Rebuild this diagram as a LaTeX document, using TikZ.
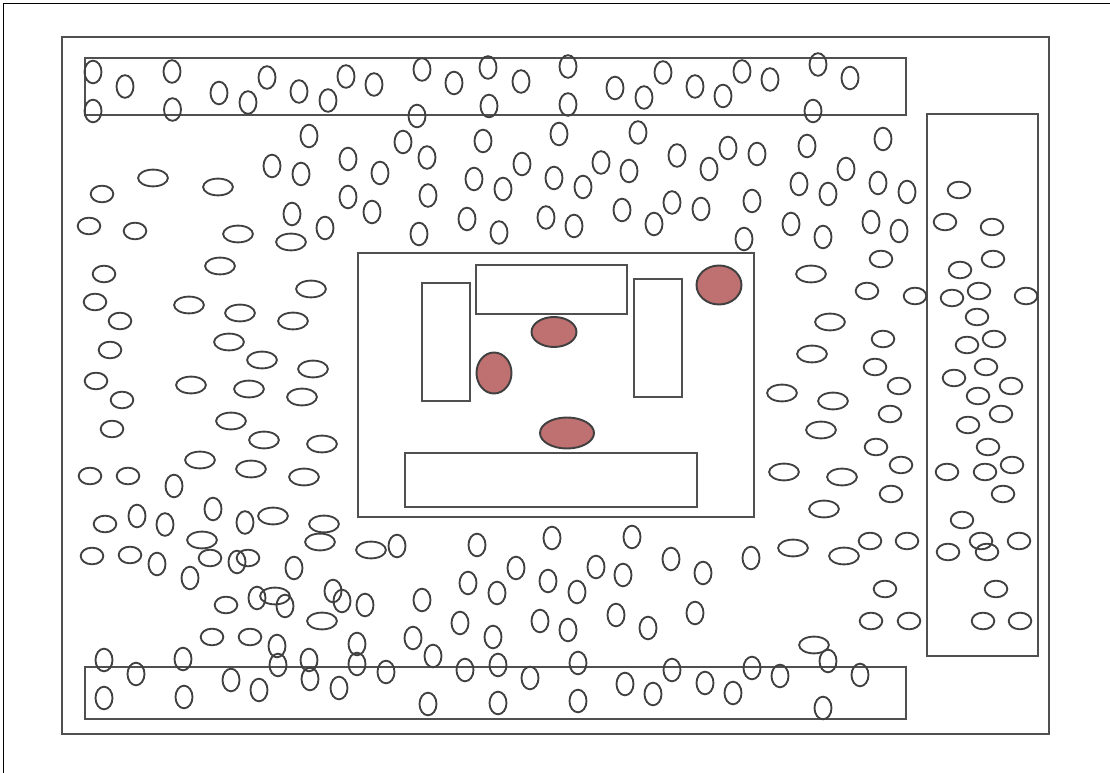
\documentclass[tikz,border=0pt]{standalone}
\usepackage{tikz}

\definecolor{boxgray}{HTML}{505050}
\definecolor{ringgray}{HTML}{404040}
\definecolor{spotred}{HTML}{BF7070}

\tikzset{
    zonebox/.style={draw=boxgray, line width=1.05pt},
    ringtall/.style={draw=ringgray, line width=1.05pt},
    spot/.style={draw=ringgray, fill=spotred, line width=1.1pt}
}

\begin{document}
\begin{tikzpicture}[x=0.02cm, y=-0.02cm]
        \useasboundingbox (0,0) rectangle (1110,773);

        % Page edge
        \draw[black, line width=0.8pt] (3.5,773) -- (3.5,3.5) -- (1110,3.5);

        % Outer frame and bands
        \draw[zonebox] (62,37) rectangle (1049,734);
        \draw[zonebox] (85,58) rectangle (906,115);
        \draw[zonebox] (85,667) rectangle (906,719);
        \draw[zonebox] (927,114) rectangle (1038,656);

        % Centre block
        \draw[zonebox] (358,253) rectangle (754,517);
        \draw[zonebox] (422,283) rectangle (470,401);
        \draw[zonebox] (476,265) rectangle (627,314);
        \draw[zonebox] (634,279) rectangle (682,397);
        \draw[zonebox] (405,453) rectangle (697,507);

        % Red spots
        \draw[spot] (719,285) ellipse (22.5 and 19.5);
        \draw[spot] (554,332) ellipse (22.5 and 15);
        \draw[spot] (494,373) ellipse (17.5 and 20.5);
        \draw[spot] (567,433) ellipse (27 and 15.5);

        % Tall rings - top band
        \foreach \px/\py in {93/72,125/86.5,172/71.5,93/111,172.5/109.5,219/93,248/102.5,267/77.5,299/91.5,328/100.5,
            346/76.5,374/84.5,422/69.5,454/83,488/67.5,521/81.5,568/66.5,615/88,644/97.5,663/72.5,695/86.5,723/96,
            742/71.5,770/79.5,818/64.5,850/78,417/116,489/106,568/104.5,813/111} {
            \draw[ringtall] (\px,\py) ellipse (8.5 and 11.3);
        }

        % Tall rings - above the centre block
        \foreach \px/\py in {309/136,403/142,483/141,559/134,638/132.5,807/146,883/139,272/166,301/174,
            348/159,380/173,427/157.5,474/179,503/189,522/164,554/178,583/187,601/162.5,629/171,677/155.5,
            709/169,728/148,757/154,846/169,799/184,828/194,878/183,907/192,292/214,325/228,348/197,
            372/212,428/195.5,419/234,467/219,499/232.5,546/217.5,574/226,622/210,654/224,672/202.5,701/209,
            752/201,744/239,791/224,823/237,871/222,899/231} {
            \draw[ringtall] (\px,\py) ellipse (8.5 and 11.3);
        }

        % Tall rings - lower left and below the centre block
        \foreach \px/\py in {174/486,213/509,137/516,165/524.5,245/522.5,397/546,157/564,237/562,294/568,
            190/578,257/598,285/606,333/591,342/601,365/605,277/646,357/644,477/545,552/538,632/537,
            671/559,751/558,703/573,516/568,596/567,623/575,468/583,497/593,548/581,577/592,422/600,
            460/623,493/637,540/621,568/630,616/615,648/628,695/613,413/638,433/656} {
            \draw[ringtall] (\px,\py) ellipse (8.5 and 11.3);
        }

        % Tall rings - bottom band
        \foreach \px/\py in {104/660,136/674,183/659,104/698,184/697,231/680,259/690,278/665,310/679,
            339/688,309/660,357/664,386/672,465/670,498/665,530/678,578/663,625/684,653/694,672/670,
            705/683,733/693,752/668,780/676,828/661,860/675,428/704,498/703,578/701,823/708} {
            \draw[ringtall] (\px,\py) ellipse (8.5 and 11.3);
        }

        % Wide rings
        \foreach \px/\py in {153/178,218/187,238/234,291/242,220/266,189/305,240/313,311/289,293/321,
            229/342,262/360,313/369,191/385,249/389,302/397,231/421,264/440,322/444,200/460,251/469,
            304/477,273/516,324/524,320/542,202/540,371/550,275/596,322/621,811/274,830/322,812/354,
            782/393,833/401,821/430,784/472,842/477,824/509,793/548,844/556,814/645} {
            \draw[ringtall] (\px,\py) ellipse (14.9 and 8.4);
        }

        % Small wide rings
        \foreach \px/\py in {102/194,89/226,135/231,104/274,95/302,120/321,110/350,96/381,122/400,
            112/429,90/476,128/476,105/524,92/556,130/555,210/558,248/558,226/605,212/637,250/637,
            867/291,881/259,915/296,883/339,875/367,899/386,890/414,876/447,901/465,891/494,870/541,
            907/541,885/589,871/621,909/621,959/190,945/222,992/227,993/259,960/270,952/298,979/291,
            1026/296,977/317,967/345,994/339,986/367,954/378,1011/386,978/396,1001/414,968/425,988/447,
            1012/465,947/472,985/472,1003/494,962/520,948/552,981/541,987/552,1019/541,996/589,983/621,
            1020/621} {
            \draw[ringtall] (\px,\py) ellipse (11.3 and 8.3);
        }
\end{tikzpicture}
\end{document}
